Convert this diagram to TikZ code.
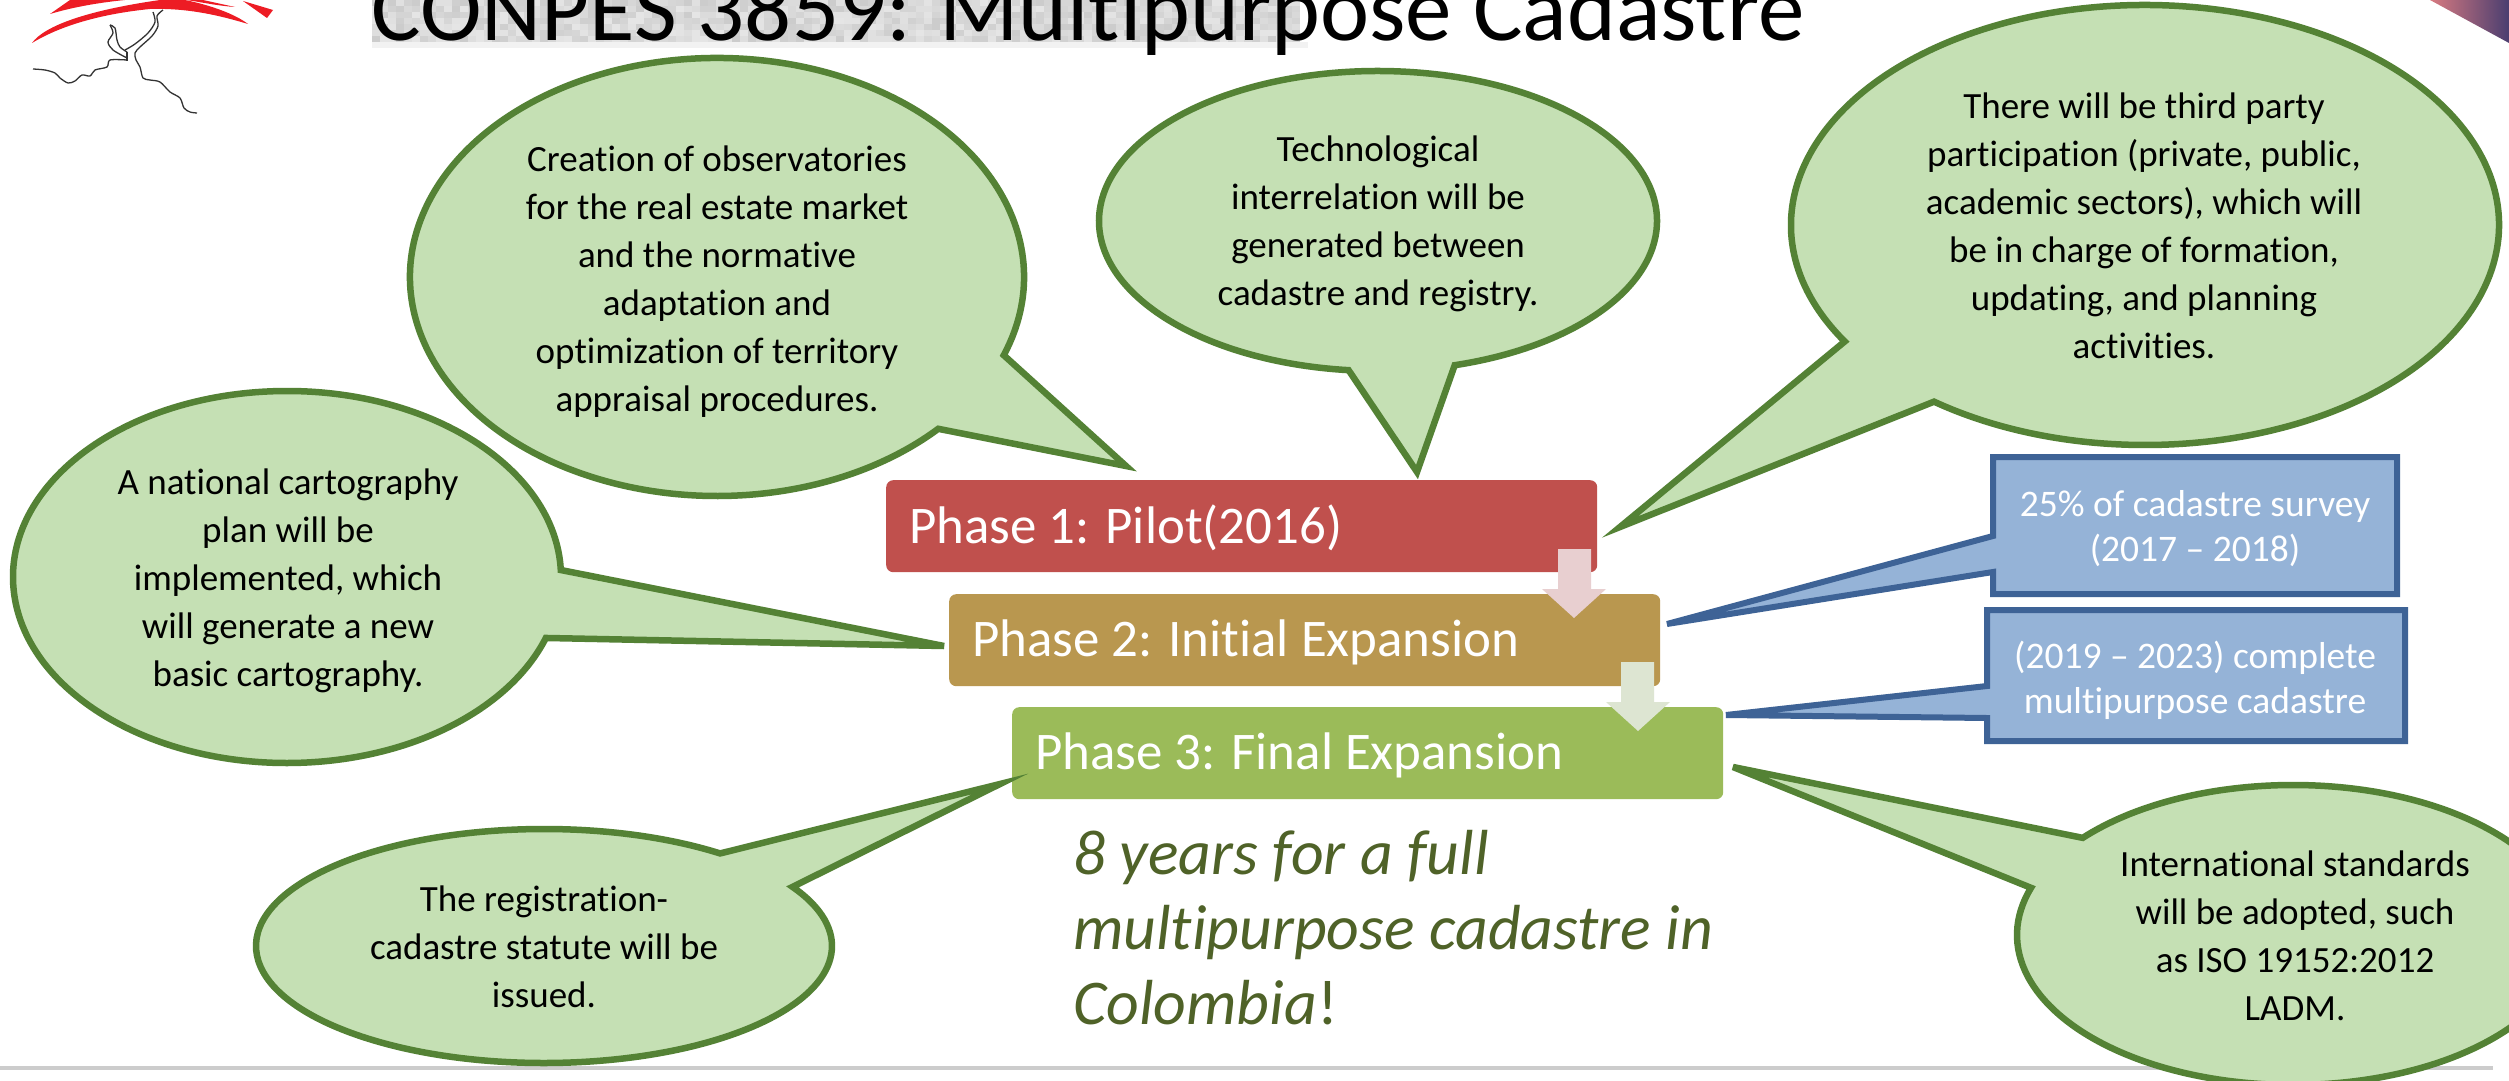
\documentclass[tikz,border=0pt]{standalone}
\usepackage{fontspec}
\setmainfont{Carlito}[Ligatures=NoCommon]
\definecolor{bubfill}{HTML}{C5E0B4}
\definecolor{bubline}{HTML}{548235}
\definecolor{boxfill}{HTML}{95B3D7}
\definecolor{boxline}{HTML}{3E6396}
\definecolor{phaseA}{HTML}{C0504D}
\definecolor{phaseB}{HTML}{B9974F}
\definecolor{phaseC}{HTML}{9BBB59}
\definecolor{arrowA}{HTML}{E8CFD0}
\definecolor{arrowB}{HTML}{DDE5D2}
\definecolor{noteink}{HTML}{4F6228}
\definecolor{logored}{HTML}{ED1C24}
\definecolor{cornerL}{HTML}{D87A80}
\definecolor{cornerR}{HTML}{4A3E70}
\tikzset{
  bubble/.style={draw=bubline,fill=bubfill,line width=6.5pt,line join=miter},
  infobox/.style={draw=boxline,fill=boxfill,line width=6pt,line join=miter},
  bubbletext/.style={align=center,text=black,inner sep=0pt,font=\fontsize{37}{48}\selectfont},
  boxtext/.style={align=center,text=white,inner sep=0pt,font=\fontsize{37.5}{45}\selectfont},
  phase/.style={rounded corners=7pt,inner sep=0pt,minimum height=92pt,minimum width=711pt,anchor=north west},
  phasetext/.style={text=white,inner sep=0pt,anchor=base west,font=\fontsize{52.9}{60}\selectfont},
  river/.style={draw=black!80,line width=1.3pt,smooth},
}
% centre x, centre y, x radius, y radius, attach A x,y, attach B x,y, tip coordinate
\newcommand\speechbubble[9]{%
  \pgfmathsetmacro\ta{atan2((#6-#2)/#4,(#5-#1)/#3)}%
  \pgfmathsetmacro\tb{atan2((#8-#2)/#4,(#7-#1)/#3)}%
  \pgfmathsetmacro\sweep{mod(mod(\tb-\ta,360)+360,360)}%
  \pgfmathsetmacro\te{\sweep>180?\ta+\sweep:\ta+\sweep-360}%
  \draw[bubble] (#9) -- ({#1+#3*cos(\ta)},{#2+#4*sin(\ta)})
    arc[start angle=\ta,end angle=\te,x radius=#3,y radius=#4] -- cycle;%
}
\begin{document}
\begin{tikzpicture}[x=1pt,y=-1pt]
\useasboundingbox (0,0) rectangle (2509,1081);
\clip (0,0) rectangle (2509,1081);
\fill[white] (0,0) rectangle (2509,1081);
% footer rule
\fill[black!20] (0,1066) rectangle (2493,1070);
% corner ornament
\shade[left color=cornerL,right color=cornerR] (2430,0) -- (2509,0) -- (2509,43) -- cycle;
% faded title backdrop
\pgfmathsetseed{38}
\foreach \bx in {372,380,...,1296} {
  \foreach \by in {0,6,...,36} {
    \pgfmathsetmacro\tone{10+random(0,10)}
    \fill[black!\tone] (\bx,\by) rectangle (\bx+8,\by+6);
  }
}
\fill[black!5] (372,42) rectangle (1308,48);
% logo
\fill[logored] (32,43) .. controls (45,25) and (90,10) .. (160,0) -- (185,0) .. controls (210,5) and (235,14) .. (248,24) .. controls (215,14) and (185,8) .. (150,9) .. controls (100,14) and (60,26) .. (32,43) -- cycle;
\fill[logored] (50,14) -- (70,0) -- (125,0) .. controls (95,3) and (70,8) .. (50,14) -- cycle;
\fill[logored] (187,0) -- (203,0) -- (235,7) .. controls (220,6) and (205,3) .. (187,0) -- cycle;
\fill[logored] (243,1) -- (273,10) -- (267,18) -- cycle;
\draw[river] plot[smooth,tension=.5] coordinates {(33,69) (45,70) (55,73) (60,78) (68,83) (75,81) (82,75) (90,76) (95,70) (107,67) (110,60) (127,60)};
\draw[river] plot[smooth,tension=.5] coordinates {(110,25) (113,33) (108,42) (113,50) (127,58)};
\draw[river] plot[smooth,tension=.5] coordinates {(110,25) (115,28) (117,40) (120,47) (127,52)};
\draw[river] (127,52) -- (127,61);
\draw[river] plot[smooth,tension=.5] coordinates {(153,12) (155,22) (148,33) (135,44) (125,50)};
\draw[river] plot[smooth,tension=.5] coordinates {(163,10) (157,16) (158,26) (152,36) (140,47) (135,53) (136,60) (140,67) (143,78) (150,80) (160,82) (170,92) (180,98) (184,108) (190,112) (197,113)};
% title
\node[anchor=base west,inner sep=0pt,font=\fontsize{93}{110}\selectfont] (title) at (371,41) {CONPES 3859: Multipurpose Cadastre};
% phases
\node[phase,fill=phaseA] (p1) at (886,480) {};
\node[phase,fill=phaseB] (p2) at (949,594) {};
\node[phase,fill=phaseC] (p3) at (1012,707) {};
\node[phasetext] (p1t) at (909,543) {Phase 1: Pilot(2016)};
\node[phasetext] (p2t) at (972,656) {Phase 2: Initial Expansion};
\node[phasetext] (p3t) at (1035,769) {Phase 3: Final Expansion};
\fill[arrowA] (1558,549) -- (1591,549) -- (1591,589) -- (1606,589) -- (1574,618) -- (1542,589) -- (1558,589) -- cycle;
\fill[arrowB] (1621,662) -- (1654,662) -- (1654,702) -- (1670,702) -- (1638,731) -- (1606,702) -- (1621,702) -- cycle;
% tips
\coordinate (tipTL) at (1126,466);
\coordinate (tipTC) at (1417,472);
\coordinate (tipTR) at (1620,527);
\coordinate (tipL) at (944,646);
\coordinate (tipB) at (1000,784);
\coordinate (tipBR) at (1733,767);
\coordinate (tipS1) at (1667,624);
\coordinate (tipS2) at (1726,715);
% bubbles
\speechbubble{717}{277}{307}{219}{1003}{355}{940}{430}{tipTL}
\speechbubble{1378}{221}{279}{150}{1349}{368}{1453}{362}{tipTC}
\speechbubble{2145}{225}{354}{220}{1846}{341}{1936}{400}{tipTR}
\speechbubble{287}{577}{274}{186}{561}{570}{546}{638}{tipL}
\speechbubble{544}{946}{288}{117}{719}{854}{792}{887}{tipB}
\speechbubble{2293}{935}{276}{150}{2083}{838}{2032}{888}{tipBR}
\node[bubbletext] (tTL) at (717,282) {Creation of observatories\\for the real estate market\\and the normative\\adaptation and\\optimization of territory\\appraisal procedures.};
\node[bubbletext] (tTC) at (1378,224) {Technological\\interrelation will be\\generated between\\cadastre and registry.};
\node[bubbletext] (tTR) at (2144,226) {There will be third party\\participation (private, public,\\academic sectors), which will\\be in charge of formation,\\updating, and planning\\activities.};
\node[bubbletext] (tL) at (288,581) {A national cartography\\plan will be\\implemented, which\\will generate a new\\basic cartography.};
\node[bubbletext] (tB) at (544,947) {The registration-\\cadastre statute will be\\issued.};
\node[bubbletext] (tBR) at (2295,936) {International standards\\will be adopted, such\\as ISO 19152:2012\\LADM.};
% blue boxes
\draw[infobox] (1993,457) -- (2397,457) -- (2397,594) -- (1993,594) -- (1993,572) -- (tipS1) -- (1993,536) -- cycle;
\draw[infobox] (1987,610) -- (2405,610) -- (2405,741) -- (1987,741) -- (1987,718) -- (tipS2) -- (1987,686) -- cycle;
\node[boxtext] (tS1) at (2195,529) {25\% of cadastre survey\\(2017 – 2018)};
\node[boxtext] (tS2) at (2195,680) {(2019 – 2023) complete\\multipurpose cadastre};
% note
\node[anchor=west,align=left,inner sep=0pt,text=noteink,font=\fontsize{63.7}{75}\selectfont] (note) at (1073,928) {\itshape 8 years for a full\\\itshape multipurpose cadastre in\\\itshape Colombia\upshape !};
\end{tikzpicture}
\end{document}
